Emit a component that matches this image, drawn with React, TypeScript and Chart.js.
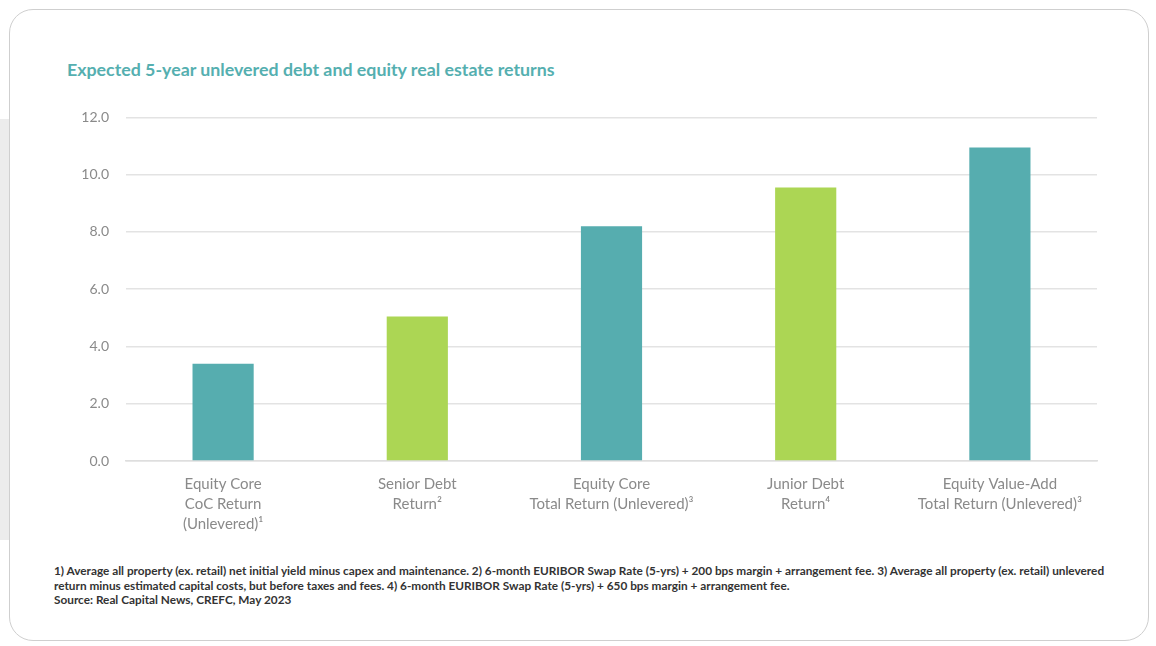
import React, { useEffect, useRef } from "react";
import { Chart, registerables } from "chart.js";

Chart.register(...registerables);

const categories: string[][] = [
  ["Equity Core", "CoC Return", "(Unlevered)¹"],
  ["Senior Debt", "Return²"],
  ["Equity Core", "Total Return (Unlevered)³"],
  ["Junior Debt", "Return⁴"],
  ["Equity Value-Add", "Total Return (Unlevered)³"],
];
const returnValues: number[] = [3.4, 5.05, 8.2, 9.55, 10.95];
const barColors: string[] = ["#56adaf", "#acd654", "#56adaf", "#acd654", "#56adaf"];
const yTicks = { min: 0, max: 12, step: 2 };

const titleText = "Expected 5-year unlevered debt and equity real estate returns";
const footnoteLines: string[] = [
  "1) Average all property (ex. retail) net initial yield minus capex and maintenance. 2) 6-month EURIBOR Swap Rate (5-yrs) + 200 bps margin + arrangement fee. 3) Average all property (ex. retail) unlevered",
  "return minus estimated capital costs, but before taxes and fees. 4) 6-month EURIBOR Swap Rate (5-yrs) + 650 bps margin + arrangement fee.",
  "Source: Real Capital News, CREFC, May 2023",
];

export default function App() {
  const canvasRef = useRef<HTMLCanvasElement | null>(null);

  useEffect(() => {
    if (!canvasRef.current) return;
    const chart = new Chart(canvasRef.current, {
      type: "bar",
      data: {
        labels: categories,
        datasets: [
          {
            data: returnValues,
            backgroundColor: barColors,
            borderWidth: 0,
            barPercentage: 0.315,
            categoryPercentage: 1,
          },
        ],
      },
      options: {
        animation: false,
        responsive: false,
        maintainAspectRatio: false,
        layout: { padding: { top: 10, right: 13, left: 0, bottom: 0 } },
        plugins: {
          legend: { display: false },
          tooltip: { enabled: false },
          title: { display: false },
        },
        scales: {
          x: {
            grid: { display: false, drawTicks: false },
            border: { display: true, color: "#dedede", width: 1.5 },
            ticks: {
              color: "#8a8a8a",
              font: { family: "Lato", size: 15, lineHeight: 1.33 },
              padding: 13,
              maxRotation: 0,
              autoSkip: false,
            },
            afterFit: (scale: any) => {
              scale.height = 99;
            },
          },
          y: {
            min: yTicks.min,
            max: yTicks.max,
            grid: { color: "#e3e3e3", lineWidth: 1.5, drawTicks: false },
            border: { display: false },
            ticks: {
              stepSize: yTicks.step,
              color: "#8a8a8a",
              font: { family: "Lato", size: 14 },
              padding: 17,
              callback: (v: any) => Number(v).toFixed(1),
            },
            afterFit: (scale: any) => {
              scale.width = 66;
            },
          },
        },
      },
    });
    return () => chart.destroy();
  }, []);

  return (
    <div
      style={{
        position: "absolute",
        left: 0,
        top: 0,
        width: 1156,
        height: 646,
        background: "#ffffff",
        overflow: "hidden",
        fontFamily: "Lato, sans-serif",
      }}
    >
      <div
        style={{
          position: "absolute",
          left: 0,
          top: 119,
          width: 10,
          height: 421,
          background: "#ececec",
        }}
      />
      <div
        style={{
          position: "absolute",
          left: 9,
          top: 9,
          width: 1140,
          height: 632,
          border: "1px solid #cfcfcf",
          borderRadius: 24,
          background: "#ffffff",
          boxSizing: "border-box",
        }}
      />
      <div
        style={{
          position: "absolute",
          left: 67,
          top: 58,
          fontSize: 17.8,
          fontWeight: 700,
          color: "#55afb0",
          whiteSpace: "nowrap",
        }}
      >
        {titleText}
      </div>
      <canvas
        ref={canvasRef}
        width={1050}
        height={468}
        style={{ position: "absolute", left: 60, top: 92, width: 1050, height: 468 }}
      />
      <div
        style={{
          position: "absolute",
          left: 54,
          top: 564,
          fontSize: 11.8,
          lineHeight: "14.5px",
          fontWeight: 700,
          color: "#333333",
          whiteSpace: "nowrap",
        }}
      >
        {footnoteLines.map((l, i) => (
          <div key={i}>{l}</div>
        ))}
      </div>
    </div>
  );
}
